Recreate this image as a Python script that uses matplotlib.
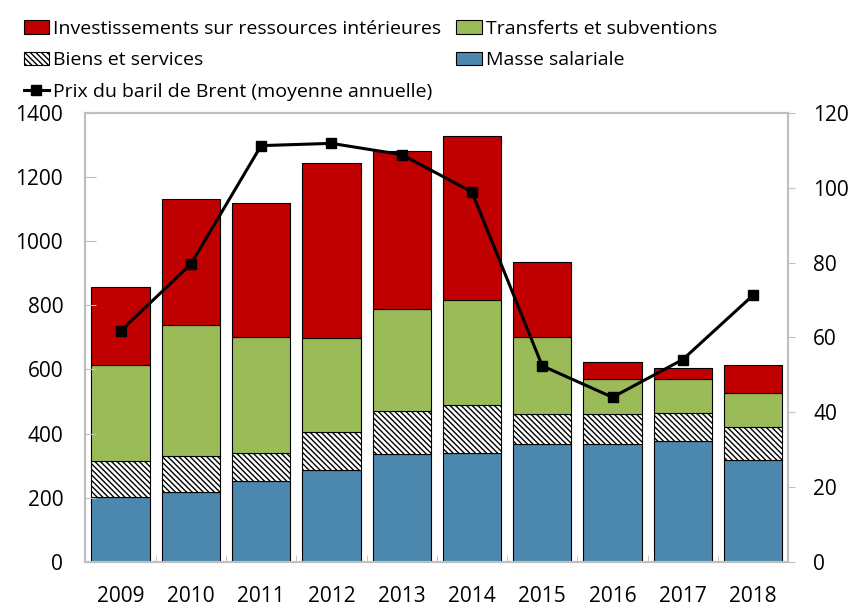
import matplotlib
matplotlib.use("Agg")
import matplotlib.pyplot as plt
import numpy as np

plt.rcParams['font.family'] = ['Open Sans', 'DejaVu Sans']
plt.rcParams['hatch.linewidth'] = 1.0

years = ["2009", "2010", "2011", "2012", "2013", "2014", "2015", "2016", "2017", "2018"]
masse = [201, 217, 251, 286, 335, 341, 369, 366, 378, 318]
biens = [112, 112, 88, 119, 136, 147, 92, 95, 87, 103]
transferts = [302, 411, 363, 294, 318, 328, 241, 108, 104, 107]
invest = [243, 393, 418, 546, 493, 512, 234, 54, 35, 85]
brent = [61.7, 79.6, 111.3, 111.9, 108.9, 98.9, 52.4, 44.0, 54.1, 71.3]

x = np.arange(len(years))
w = 0.83
spine_col = '#BFBFBF'

fig = plt.figure(figsize=(8.54, 6.08), dpi=100)
ax = fig.add_axes([0.1, 0.076, 0.823, 0.738])

# stacked bars
b0 = np.zeros(len(years))
h_masse = ax.bar(x, masse, w, bottom=b0, color='#4C88AE', edgecolor='black', linewidth=0.8,
                 label='Masse salariale')
b0 = b0 + masse
h_biens = ax.bar(x, biens, w, bottom=b0, color='white', edgecolor='black', linewidth=0.8,
                 hatch='\\\\\\\\\\\\', label='Biens et services')
b0 = b0 + biens
h_trans = ax.bar(x, transferts, w, bottom=b0, color='#9BBB59', edgecolor='black', linewidth=0.8,
                 label='Transferts et subventions')
b0 = b0 + transferts
h_inv = ax.bar(x, invest, w, bottom=b0, color='#C00000', edgecolor='black', linewidth=0.8,
               label='Investissements sur ressources intérieures')

ax.set_xlim(-0.5, len(years) - 0.5)
ax.set_ylim(0, 1400)
ax.set_yticks(range(0, 1401, 200))
ax.set_xticks(x)
ax.set_xticklabels(years)
ax.set_xticks(np.arange(-0.5, len(years)), minor=True)
ax.tick_params(axis='x', which='major', length=0, labelsize=15, pad=17.5)
ax.tick_params(axis='x', which='minor', direction='in', length=5, color=spine_col)
ax.tick_params(axis='y', direction='in', length=8, color=spine_col, labelsize=15, pad=16)

# Brent on secondary axis
ax2 = ax.twinx()
h_brent, = ax2.plot(x, brent, color='black', linewidth=2.2, marker='s', markersize=7.5,
                    label='Prix du baril de Brent (moyenne annuelle)')
ax2.set_ylim(0, 120)
ax2.set_yticks(range(0, 121, 20))
ax2.tick_params(axis='y', direction='out', length=5, color=spine_col, labelsize=15, pad=13)

for a in (ax, ax2):
    for s in a.spines.values():
        s.set_color(spine_col)
        s.set_linewidth(1.5)

handles = [h_inv, h_biens, h_brent, h_trans, h_masse]
labels = [h.get_label() for h in handles]
fig.legend(handles, labels, ncol=2, loc='upper left', bbox_to_anchor=(0.006, 0.998),
           frameon=False, fontsize=14, handlelength=1.3, handleheight=0.72,
           handletextpad=0.2, labelspacing=0.7, columnspacing=0.8, borderpad=0.45)

fig.savefig("out.png", dpi=100)
